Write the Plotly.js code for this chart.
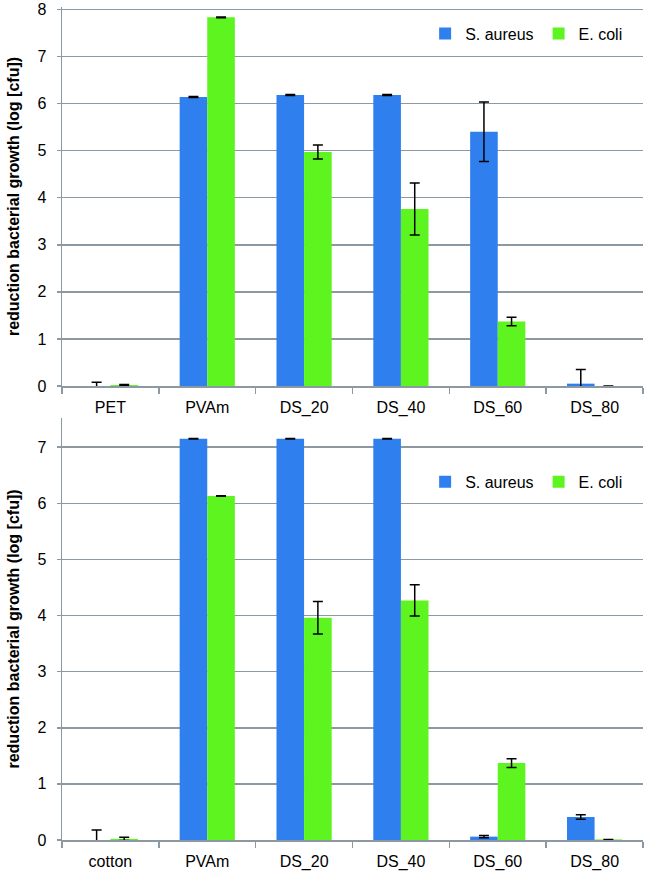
<!DOCTYPE html>
<html>
<head>
<meta charset="utf-8">
<script src="https://cdn.plot.ly/plotly-3.0.1.min.js"></script>
<style>html,body{margin:0;padding:0;background:#fff;}#chart{width:647px;height:873px;}</style>
</head>
<body>
<div id="chart"></div>
<script>
// Top panel (PET substrate)
const catsTop = ["PET", "PVAm", "DS_20", "DS_40", "DS_60", "DS_80"];
const saTop = [0.0, 6.14, 6.18, 6.18, 5.40, 0.05];
const saTopErr = [0.08, 0.01, 0.01, 0.01, 0.63, 0.30];
const ecTop = [0.02, 7.83, 4.97, 3.76, 1.37, 0.0];
const ecTopErr = [0.01, 0.01, 0.15, 0.55, 0.09, 0.0];

// Bottom panel (cotton substrate)
const catsBot = ["cotton", "PVAm", "DS_20", "DS_40", "DS_60", "DS_80"];
const saBot = [0.0, 7.15, 7.15, 7.15, 0.06, 0.41];
const saBotErr = [0.18, 0.005, 0.005, 0.005, 0.02, 0.04];
const ecBot = [0.02, 6.13, 3.96, 4.27, 1.37, 0.01];
const ecBotErr = [0.03, 0.005, 0.29, 0.28, 0.08, 0.0];

const seriesNames = ["S. aureus", "E. coli"];
const yTickVals = [0, 1, 2, 3, 4, 5, 6, 7, 8];
const blue = "#2F7FEF";
const green = "#5EF41F";
const grid = "#8C99A3";

function bar(x, y, err, name, color, xa, ya, leg) {
  return {
    type: "bar", x: x, y: y, name: name, xaxis: xa, yaxis: ya, legend: leg,
    marker: {color: color, line: {width: 0}},
    error_y: {type: "data", array: err, visible: true, color: "#000", thickness: 1.5, width: 5},
    hoverinfo: "none"
  };
}

const data = [
  bar(catsTop, saTop, saTopErr, seriesNames[0], blue, "x", "y", "legend"),
  bar(catsTop, ecTop, ecTopErr, seriesNames[1], green, "x", "y", "legend"),
  bar(catsBot, saBot, saBotErr, seriesNames[0], blue, "x2", "y2", "legend2"),
  bar(catsBot, ecBot, ecBotErr, seriesNames[1], green, "x2", "y2", "legend2")
];

const font = {family: "Liberation Sans, Arial, sans-serif", size: 16, color: "#000"};
const xCommon = {
  type: "category", showgrid: false, showline: true, linecolor: grid, linewidth: 1.5,
  ticks: "outside", tickson: "boundaries", ticklen: 6, tickcolor: grid, tickwidth: 1.5,
  tickfont: font, ticklabelstandoff: 6, fixedrange: true
};
const yCommon = {
  showgrid: true, gridcolor: grid, gridwidth: 1.5, showline: true, linecolor: grid, linewidth: 1.5,
  ticks: "outside", ticklen: 4, tickcolor: grid, tickwidth: 1.5,
  tickmode: "array", tickvals: yTickVals, ticktext: yTickVals.map(String),
  tickfont: font, zeroline: false, ticklabelstandoff: 7, ticklabeloverflow: "allow", fixedrange: true,
  title: {text: "reduction bacterial growth (log [cfu])", font: {family: font.family, size: 16, color: "#000", weight: "bold"}, standoff: 14}
};

const layout = {
  width: 647, height: 873,
  margin: {l: 62, r: 4, t: 7, b: 33},
  paper_bgcolor: "#fff", plot_bgcolor: "#fff",
  font: font,
  barmode: "group", bargap: 0.43, bargroupgap: 0,
  showlegend: true,
  xaxis: Object.assign({}, xCommon, {anchor: "y"}),
  yaxis: Object.assign({}, yCommon, {domain: [0.545, 1], range: [0, 8.05], anchor: "x"}),
  xaxis2: Object.assign({}, xCommon, {anchor: "y2"}),
  yaxis2: Object.assign({}, yCommon, {domain: [0, 0.5066], range: [0, 7.52], anchor: "x2"}),
  legend: {orientation: "h", x: 0.625, y: 0.968, xanchor: "left", yanchor: "middle", bgcolor: "rgba(0,0,0,0)", font: font, traceorder: "normal"},
  legend2: {orientation: "h", x: 0.625, y: 0.43, xanchor: "left", yanchor: "middle", bgcolor: "rgba(0,0,0,0)", font: font, traceorder: "normal"}
};

Plotly.newPlot("chart", data, layout, {displayModeBar: false, staticPlot: true});
</script>
</body>
</html>
